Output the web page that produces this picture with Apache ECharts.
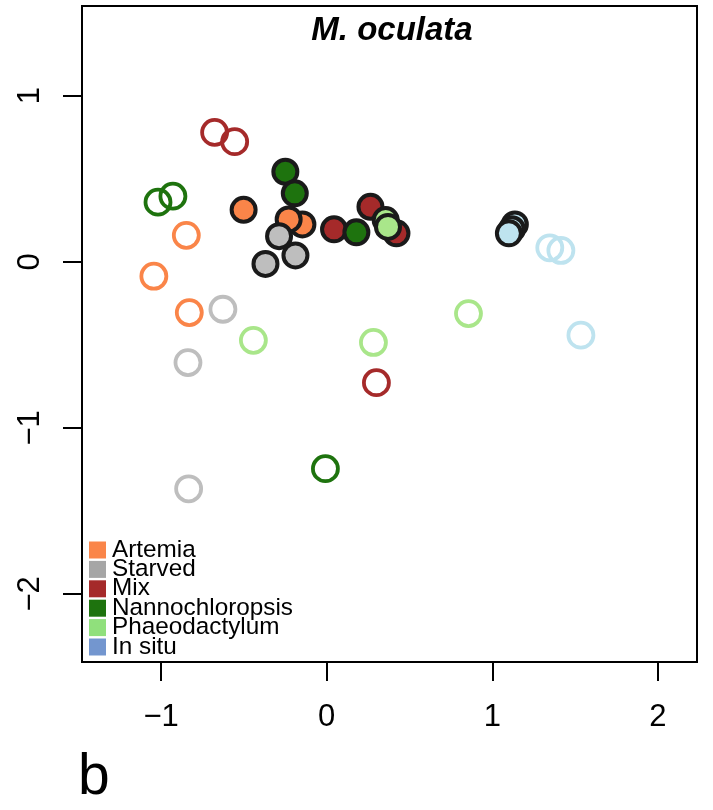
<!DOCTYPE html>
<html>
<head>
<meta charset="utf-8">
<script src="https://cdn.jsdelivr.net/npm/echarts@6/dist/echarts.min.js"></script>
<style>
  html, body { margin: 0; padding: 0; background: #fff; }
  #container { width: 713px; height: 810px; }
</style>
</head>
<body>
<div id="container"></div>
<script>
  // point coordinates: open rings and filled discs per group
  var artemiaOpen = [[-0.848, 0.159], [-1.044, -0.087], [-0.830, -0.306]];
  var artemiaFilled = [[-0.147, 0.225], [-0.502, 0.313], [-0.230, 0.255]];
  var starvedOpen = [[-0.627, -0.286], [-0.838, -0.607], [-0.834, -1.367]];
  var starvedFilled = [[-0.189, 0.038], [-0.370, -0.013], [-0.288, 0.154]];
  var mixOpen = [[-0.677, 0.779], [-0.556, 0.723], [0.300, -0.728]];
  var mixFilled = [[0.421, 0.171], [0.044, 0.195], [0.264, 0.331]];
  var nannoOpen = [[-1.019, 0.359], [-0.929, 0.395], [-0.008, -1.246]];
  var nannoFilled = [[-0.250, 0.542], [-0.193, 0.412], [0.179, 0.177]];
  var phaeoOpen = [[-0.443, -0.473], [0.282, -0.486], [0.856, -0.312]];
  var phaeoFilled = [[0.356, 0.251], [0.370, 0.210]];
  var insituOpen = [[1.347, 0.084], [1.414, 0.068], [1.535, -0.442]];
  var insituFilled = [[1.136, 0.225], [1.118, 0.196], [1.100, 0.171]];

  var groups = ['Artemia', 'Starved', 'Mix', 'Nannochloropsis', 'Phaeodactylum', 'In situ'];
  var xTicks = [-1, 0, 1, 2];
  var yTicks = [-2, -1, 0, 1];

  var pointColors = ['#FA8549', '#BEBEBE', '#A52A2A', '#1E730E', '#A9E68A', '#BEE3EF'];
  var legendColors = ['#FA8549', '#A6A6A6', '#A52A2A', '#1E730E', '#90E07C', '#7396CF'];
  var openData = [artemiaOpen, starvedOpen, mixOpen, nannoOpen, phaeoOpen, insituOpen];
  var filledData = [artemiaFilled, starvedFilled, mixFilled, nannoFilled, phaeoFilled, insituFilled];

  var font = '"Liberation Sans", Arial, Helvetica, sans-serif';

  function minusFmt(v) {
    return v < 0 ? '\u2212' + Math.abs(v) : String(v);
  }

  var series = [];
  groups.forEach(function (g, i) {
    series.push({
      name: g,
      type: 'scatter',
      data: openData[i],
      symbol: 'circle',
      symbolSize: 25,
      itemStyle: {
        color: 'rgba(0,0,0,0)',
        borderColor: pointColors[i],
        borderWidth: 3.8,
        opacity: 1
      },
      emphasis: { disabled: true }
    });
  });
  groups.forEach(function (g, i) {
    series.push({
      name: g,
      type: 'scatter',
      data: filledData[i],
      symbol: 'circle',
      symbolSize: 24,
      itemStyle: {
        color: pointColors[i],
        borderColor: '#1a1a1a',
        borderWidth: 4,
        opacity: 1
      },
      emphasis: { disabled: true }
    });
  });

  var dom = document.getElementById('container');
  var myChart = echarts.init(dom, null, { renderer: 'canvas' });
  var option = {
    animation: false,
    backgroundColor: '#fff',
    grid: {
      left: 82,
      right: 16,
      top: 6,
      bottom: 148,
      show: true,
      borderColor: '#000',
      borderWidth: 2,
      outerBoundsMode: 'none'
    },
    legend: {
      orient: 'vertical',
      left: 89,
      top: 538,
      padding: 0,
      itemWidth: 17,
      itemHeight: 17,
      itemGap: -4.6,
      selectedMode: false,
      textStyle: {
        fontFamily: font,
        fontSize: 24.3,
        color: '#000',
        padding: [0, 0, 0, 1]
      },
      data: groups.map(function (g, i) {
        return {
          name: g,
          icon: 'rect',
          itemStyle: { color: legendColors[i], borderWidth: 0 }
        };
      })
    },
    xAxis: {
      type: 'value',
      min: -1.478,
      max: 2.236,
      splitLine: { show: false },
      axisLine: { show: true, onZero: false, lineStyle: { color: '#000', width: 2 } },
      axisTick: {
        show: true,
        customValues: xTicks,
        length: 19,
        lineStyle: { color: '#000', width: 2 }
      },
      axisLabel: {
        customValues: xTicks,
        margin: 40,
        fontFamily: font,
        fontSize: 31,
        lineHeight: 31,
        color: '#000',
        formatter: minusFmt
      }
    },
    yAxis: {
      type: 'value',
      min: -2.41,
      max: 1.54,
      splitLine: { show: false },
      axisLine: { show: true, onZero: false, lineStyle: { color: '#000', width: 2 } },
      axisTick: {
        show: true,
        customValues: yTicks,
        length: 19,
        lineStyle: { color: '#000', width: 2 }
      },
      axisLabel: {
        customValues: yTicks,
        rotate: 90,
        margin: 36,
        fontFamily: font,
        fontSize: 31,
        lineHeight: 31,
        color: '#000',
        formatter: minusFmt
      }
    },
    graphic: [
      {
        type: 'text',
        x: 392,
        y: 31,
        style: {
          text: 'M. oculata',
          fontFamily: font,
          fontSize: 33,
          fontWeight: 'bold',
          fontStyle: 'italic',
          fill: '#000',
          textAlign: 'center',
          textVerticalAlign: 'middle'
        }
      },
      {
        type: 'text',
        x: 78,
        y: 778,
        style: {
          text: 'b',
          fontFamily: font,
          fontSize: 57,
          fill: '#000',
          textAlign: 'left',
          textVerticalAlign: 'middle'
        }
      }
    ],
    series: series
  };
  myChart.setOption(option, true);
</script>
</body>
</html>
